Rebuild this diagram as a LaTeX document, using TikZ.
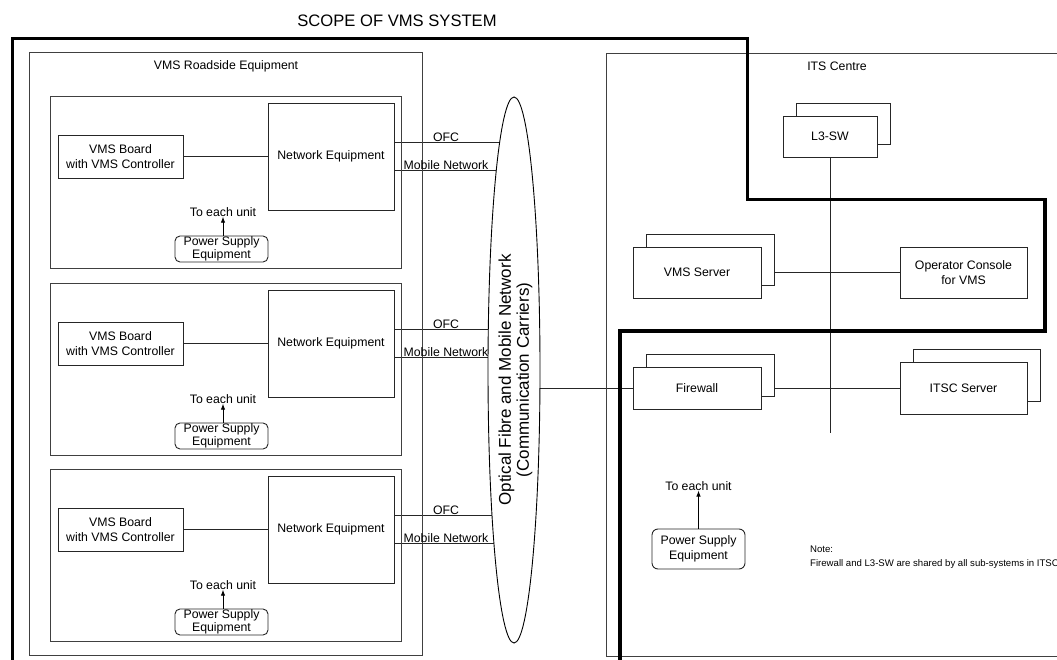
\documentclass[tikz,border=0pt]{standalone}
\usepackage{fontspec}
\setmainfont{Liberation Sans}
\usetikzlibrary{arrows.meta,positioning,shapes.geometric,backgrounds,calc}

\begin{document}
\begin{tikzpicture}[
    x=1pt, y=-1pt,
    font=\fontsize{12.3}{15}\selectfont,
    >={Latex[length=6pt,width=4.5pt]},
    areabox/.style={rectangle, draw=black!75, line width=0.9pt, inner sep=0pt},
    unitbox/.style={rectangle, draw=black!85, line width=0.9pt, fill=white,
        inner sep=0pt, align=center},
    psubox/.style={rectangle, draw=black!85, line width=0.9pt, rounded corners=5pt,
        fill=white, align=center, inner sep=1pt},
    link/.style={draw=black!85, line width=0.9pt},
    feed/.style={->, draw=black, line width=0.9pt},
    scopeline/.style={draw=black, line width=3.5pt},
    tag/.style={inner sep=0pt}
  ]
  \path[use as bounding box] (0,0) rectangle (1057,660);

  \node[tag, font=\fontsize{16.6}{18}\selectfont] (title) at (397,21) {SCOPE OF VMS SYSTEM};

  % carriers
  \node[ellipse, draw=black, line width=0.9pt, fill=white, minimum width=52pt,
        minimum height=546pt, inner sep=0pt] (carrier) at (514,370) {};
  \node[tag, rotate=90, align=center, font=\fontsize{17}{18}\selectfont]
        (carrierlbl) at (515.5,380) {Optical Fibre and Mobile Network\\(Communication Carriers)};

  % roadside
  \node[areabox, minimum width=393pt, minimum height=603pt] (road) at (225.5,353.5) {};
  \node[tag] (roadlbl) at (226,66) {VMS Roadside Equipment};

  \foreach \u/\t in {A/96, B/283, C/469} {
    \node[areabox, minimum width=351pt, minimum height=172pt] (unit\u) at (225.5,\t+86) {};
    \node[unitbox, minimum width=126pt, minimum height=107pt] (net\u) at (331,\t+60.5) {Network Equipment};
    \node[unitbox, minimum width=125pt, minimum height=43pt] (board\u) at (120.5,\t+60.5) {VMS Board\\with VMS Controller};
    \node[psubox, minimum width=93pt, minimum height=26pt, font=\fontsize{12.3}{11}\selectfont]
          (psu\u) at (221.5,\t+153) {Power Supply\\Equipment};
    \node[tag] (to\u) at (223,\t+116) {To each unit};
    \node[tag] (ofc\u) at (446,\t+41) {OFC};
    \node[tag] (mob\u) at (446,\t+69) {Mobile Network};
    \coordinate (ofcin\u) at ($(net\u.north east)+(0,40)$);
    \coordinate (mobin\u) at ($(net\u.north east)+(0,68)$);
    \begin{pgfonlayer}{background}
      \draw[link] (board\u.east) -- (net\u.west);
      \draw[link] (ofcin\u) -- (ofcin\u -| carrier.center);
      \draw[link] (mobin\u) -- (mobin\u -| carrier.center);
    \end{pgfonlayer}
    \draw[feed] (psu\u.north -| to\u) -- (to\u.south);
  }

  % ITS centre
  \node[areabox, minimum width=470pt, minimum height=603pt] (centre) at (841,354.5) {};
  \node[tag] (centrelbl) at (837,66) {ITS Centre};

  \node[unitbox, minimum width=94pt, minimum height=41pt] (l3back) at (843,123.5) {};
  \node[unitbox, minimum width=94pt, minimum height=41pt] (l3) at (830,136.5) {L3-SW};
  \node[unitbox, minimum width=128pt, minimum height=51pt] (vmssrvback) at (710,259.5) {};
  \node[unitbox, minimum width=128pt, minimum height=51pt] (vmssrv) at (697,272.5) {VMS Server};
  \node[unitbox, minimum width=127pt, minimum height=51pt] (console) at (963.5,272.5) {Operator Console\\for VMS};
  \node[unitbox, minimum width=128pt, minimum height=42pt] (fwback) at (710,375) {};
  \node[unitbox, minimum width=128pt, minimum height=42pt] (fw) at (697,388) {Firewall};
  \node[unitbox, minimum width=127pt, minimum height=52pt] (itscback) at (976.5,375) {};
  \node[unitbox, minimum width=127pt, minimum height=52pt] (itsc) at (963.5,388) {ITSC Server};

  \node[psubox, minimum width=93pt, minimum height=40pt, rounded corners=6pt] (psuI) at (698.5,549) {Power Supply\\Equipment};
  \node[tag, above=38pt of psuI] (toI) {To each unit};
  \draw[feed] (psuI.north -| toI) -- (toI.south);

  \node[tag, anchor=north west, align=left, font=\fontsize{9.6}{14}\selectfont] (note) at (810,546)
        {Note:\\Firewall and L3-SW are shared by all sub-systems in ITSC};

  \coordinate (l3end) at (830,433);
  \begin{pgfonlayer}{background}
    \draw[link] (l3.south) -- (l3end);
    \draw[link] (vmssrv.east) -- (console.west);
    \draw[link] (fw.east) -- (itsc.west);
    \draw[link] (fw.west -| carrier.center) -- (fw.west);
  \end{pgfonlayer}

  % scope of the system
  \draw[scopeline] (12.5,665) -- (12.5,38.5) -- (747.5,38.5) -- (747.5,199.5)
        -- (1045,199.5) -- (1045,331) -- (620,331) -- (620,665);
\end{tikzpicture}
\end{document}
